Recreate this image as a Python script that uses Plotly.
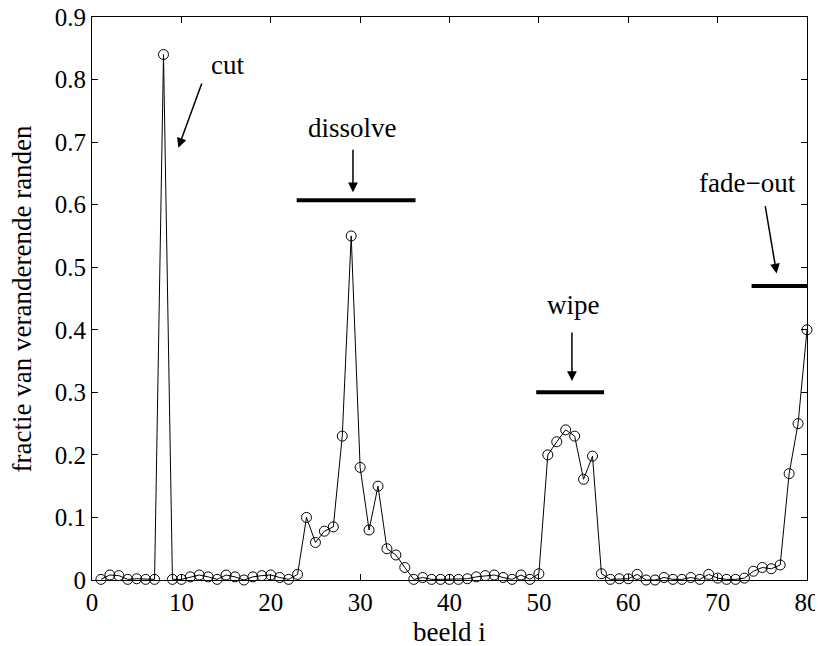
import plotly.graph_objects as go

frames = list(range(1, 81))
fraction = [
    0.001, 0.008, 0.007, 0.001, 0.002, 0.001, 0.001, 0.84, 0.001, 0.001,
    0.005, 0.008, 0.005, 0.001, 0.008, 0.005, 0.000, 0.005, 0.007, 0.008,
    0.004, 0.001, 0.009, 0.100, 0.060, 0.078, 0.085, 0.230, 0.550, 0.180,
    0.080, 0.150, 0.050, 0.040, 0.020, 0.001, 0.004, 0.001, 0.001, 0.001,
    0.001, 0.002, 0.005, 0.007, 0.008, 0.004, 0.001, 0.008, 0.001, 0.010,
    0.200, 0.221, 0.240, 0.230, 0.161, 0.198, 0.010, 0.001, 0.002, 0.002,
    0.009, 0.000, 0.000, 0.004, 0.001, 0.001, 0.004, 0.001, 0.009, 0.003,
    0.001, 0.001, 0.003, 0.014, 0.020, 0.018, 0.024, 0.170, 0.250, 0.400,
]

x_ticks = [0, 10, 20, 30, 40, 50, 60, 70, 80]
y_ticks = [0, 0.1, 0.2, 0.3, 0.4, 0.5, 0.6, 0.7, 0.8, 0.9]
y_tick_labels = ["0", "0.1", "0.2", "0.3", "0.4", "0.5", "0.6", "0.7", "0.8", "0.9"]

labels = ["cut", "dissolve", "wipe", "fade\u2212out"]
x_title = "beeld i"
y_title = "fractie van veranderende randen"

FONT = "Liberation Serif"
FS = 27
TICK_FS = 25

fig = go.Figure()
fig.add_trace(go.Scatter(
    x=frames, y=fraction, mode="lines+markers",
    line=dict(color="black", width=1),
    marker=dict(symbol="circle-open", size=10, color="black", line=dict(width=1)),
    cliponaxis=False, showlegend=False,
))

# transition bars
bars = [(22.9, 36.2, 0.607), (49.7, 57.3, 0.30), (73.8, 80.0, 0.47)]
for x0, x1, yv in bars:
    fig.add_shape(type="line", xref="x", yref="y", x0=x0, x1=x1, y0=yv, y1=yv,
                  line=dict(color="black", width=4))

# text labels
texts = [(15.2, 0.823, labels[0]), (29.2, 0.722, labels[1]),
         (53.9, 0.44, labels[2]), (73.3, 0.635, labels[3])]
for tx, ty, t in texts:
    fig.add_annotation(x=tx, y=ty, text=t, showarrow=False, xref="x", yref="y",
                       font=dict(family=FONT, size=FS, color="black"))

# arrows (tip x,y ; tail ax,ay)
arrows = [(9.66, 0.691, 12.34, 0.796), (29.2, 0.62, 29.2, 0.69),
          (53.7, 0.318, 53.7, 0.398), (76.6, 0.49, 75.3, 0.60)]
for x, y, ax, ay in arrows:
    fig.add_annotation(x=x, y=y, ax=ax, ay=ay, xref="x", yref="y",
                       axref="x", ayref="y", text="", showarrow=True,
                       arrowhead=2, arrowsize=1.3, arrowwidth=1.5,
                       arrowcolor="black", standoff=0)

# axis titles
fig.add_annotation(x=0.5, y=-0.0924, xref="paper", yref="paper", text=x_title,
                   showarrow=False, yanchor="middle",
                   font=dict(family=FONT, size=FS, color="black"))
fig.add_annotation(x=-0.098, y=0.5, xref="paper", yref="paper", text=y_title,
                   showarrow=False, textangle=-90, xanchor="center",
                   font=dict(family=FONT, size=FS, color="black"))

axis_common = dict(
    showline=True, linecolor="black", linewidth=1, mirror="ticks",
    ticks="inside", ticklen=6, tickcolor="black", tickwidth=1,
    showgrid=False, zeroline=False, automargin=False,
    ticklabeloverflow="allow",
    tickfont=dict(family=FONT, size=TICK_FS, color="black"),
)

fig.update_xaxes(range=[0, 80], tickvals=x_ticks, ticktext=[str(v) for v in x_ticks],
                 **axis_common)
fig.update_yaxes(range=[0, 0.9], tickvals=y_ticks, ticktext=y_tick_labels,
                 **axis_common)

# the page body adds an 8px offset; compensate so the plot area lands at 92..807 x 17..580
fig.update_layout(
    width=815, height=638,
    margin=dict(l=84, r=16, t=9, b=66),
    plot_bgcolor="white", paper_bgcolor="white",
    font=dict(family=FONT, size=FS, color="black"),
)

fig.write_html("out.html")
